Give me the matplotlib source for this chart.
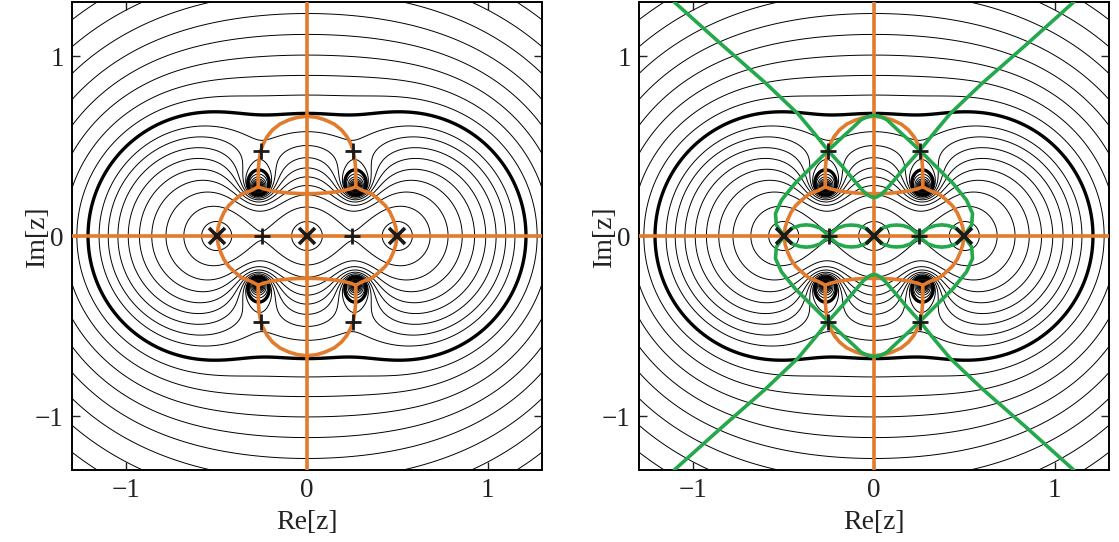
import numpy as np
import matplotlib.pyplot as plt

plt.rcParams['font.family'] = ['Liberation Serif', 'DejaVu Serif']

# double zeros and simple poles of f(z), saddle points
zeros = [-0.5, 0.0, 0.5]
zero_order = 2
poles = [0.27 + 0.27j, -0.27 + 0.27j, 0.27 - 0.27j, -0.27 - 0.27j]
saddles = [0.25, -0.25, 0.255 + 0.475j, -0.255 + 0.475j, 0.255 - 0.475j, -0.255 - 0.475j]

# contour values of |f| (thin lines) and the heavy one
inner_levels = [0.02, 0.09, 0.2, 0.31, 0.42, 0.53, 0.64, 0.75, 0.86]
outer_levels = [1.15, 1.33, 1.54, 1.78, 2.05, 2.36, 2.72, 3.12, 3.6, 4.15, 4.8, 5.5,
                6.4, 7.4, 8.6, 10, 11.6, 13.5, 15.7, 18.3, 21.3, 25, 29, 34, 40, 47, 55, 65]
thick_level = 1.0
plot_range = 1.3
ticks = [-1, 0, 1]

# orange curves, first quadrant (mirrored into the others)
arc_x = [0.0, 0.05, 0.1, 0.15, 0.19, 0.22, 0.243, 0.256, 0.265, 0.269, 0.27, 0.27]
arc_y = [0.665, 0.66, 0.645, 0.622, 0.59, 0.553, 0.51, 0.475, 0.42, 0.374, 0.32, 0.273]
link_x = [0.0, 0.05, 0.1, 0.15, 0.2, 0.24, 0.27]
link_y = [0.235, 0.236, 0.239, 0.244, 0.252, 0.262, 0.273]
oval_x = [0.27, 0.31, 0.359, 0.40, 0.433, 0.46, 0.479, 0.492, 0.497]
oval_y = [0.273, 0.252, 0.234, 0.20, 0.169, 0.13, 0.087, 0.045, 0.0]

# green curves (right panel), first quadrant
gu_x = [0.0, 0.015, 0.035, 0.06, 0.107, 0.18, 0.254, 0.33, 0.42, 0.6, 0.85, 1.105]
gu_y = [0.214, 0.217, 0.228, 0.25, 0.305, 0.392, 0.475, 0.57, 0.678, 0.85, 1.07, 1.3]
gd_x = [0.0, 0.03, 0.07, 0.125, 0.19, 0.254, 0.346, 0.438, 0.512, 0.545, 0.54, 0.508, 0.5]
gd_y = [0.67, 0.665, 0.647, 0.595, 0.535, 0.475, 0.383, 0.291, 0.199, 0.125, 0.061, 0.015, 0.0]
lens1_x = [0.0, 0.02, 0.05, 0.09, 0.125, 0.16, 0.2, 0.23, 0.25]
lens1_y = [0.0, 0.02, 0.045, 0.058, 0.061, 0.058, 0.045, 0.02, 0.0]
lens2_x = [0.25, 0.27, 0.3, 0.34, 0.375, 0.41, 0.45, 0.48, 0.5]
lens2_y = [0.0, 0.02, 0.045, 0.058, 0.062, 0.058, 0.045, 0.02, 0.0]

orange = '#E27B2C'
green = '#23A84B'


def f_abs(z):
    """|f| for f = prod (z-a)^2 / prod (z-p)"""
    num = np.ones_like(z)
    for a in zeros:
        num = num * (z - a) ** zero_order
    den = np.ones_like(z)
    for p in poles:
        den = den * (z - p)
    return np.abs(num / den)


def mirrored(xs, ys):
    xs = np.asarray(xs)
    ys = np.asarray(ys)
    return [(sx * xs, sy * ys) for sx in (1, -1) for sy in (1, -1)]


def draw_curves(ax, curves, color, z):
    for xs, ys in curves:
        for mx, my in mirrored(xs, ys):
            ax.plot(mx, my, color=color, lw=2.6, solid_capstyle='round',
                    solid_joinstyle='round', zorder=z)


n = 801
gx = np.linspace(-plot_range, plot_range, n)
X, Y = np.meshgrid(gx, gx)
F = f_abs(X + 1j * Y)

fig = plt.figure(figsize=(11.19, 5.42), dpi=100)
ax1 = fig.add_axes([72 / 1119, 72 / 542, 470 / 1119, 468 / 542])
ax2 = fig.add_axes([639 / 1119, 72 / 542, 470 / 1119, 468 / 542])

for ax in (ax1, ax2):
    ax.contour(X, Y, F, levels=inner_levels + outer_levels, colors='black',
               linewidths=0.7, zorder=1)
    ax.contour(X, Y, F, levels=[thick_level], colors='black', linewidths=2.4, zorder=2)

    ax.axhline(0, color=orange, lw=2.6, zorder=3)
    ax.axvline(0, color=orange, lw=2.6, zorder=3)
    draw_curves(ax, [(arc_x, arc_y), (link_x, link_y), (oval_x, oval_y)], orange, 3)

    ax.set_xlim(-plot_range, plot_range)
    ax.set_ylim(-plot_range, plot_range)
    ax.set_xticks(ticks)
    ax.set_yticks(ticks)
    ax.tick_params(direction='in', length=6, width=1, top=True, right=True,
                   labelsize=19.5, pad=6, colors='#222222')
    for s in ax.spines.values():
        s.set_linewidth(1.4)
    ax.set_xlabel('Re[z]', fontsize=20, labelpad=5, color='#222222')
    ax.set_ylabel('Im[z]', fontsize=20, color='#222222')
    # Mathematica puts the frame label right next to the "0" tick label
    ax.yaxis.set_label_coords(-0.047, 0.5)

draw_curves(ax2, [(gu_x, gu_y), (gd_x, gd_y), (lens1_x, lens1_y), (lens2_x, lens2_y)], green, 4)

for ax in (ax1, ax2):
    ax.plot(np.real(zeros), np.imag(zeros), 'x', color='#1a1a1a', ms=11, mew=2.6, zorder=6)
    ax.plot(np.real(saddles), np.imag(saddles), '+', color='#1a1a1a', ms=11, mew=2.0, zorder=6)

fig.savefig('out.png', dpi=100)
